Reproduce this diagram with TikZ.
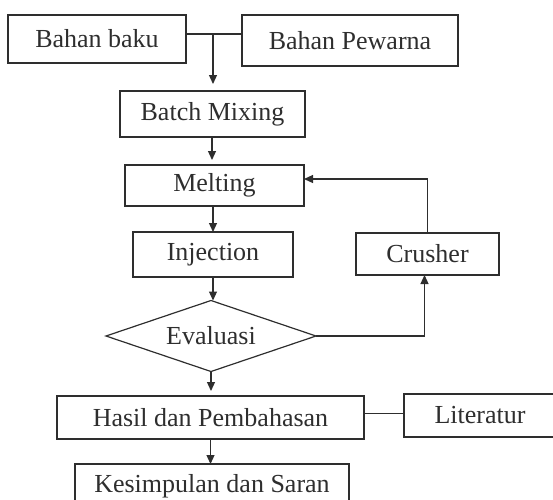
\documentclass[tikz,border=0pt]{standalone}
\usepackage{fontspec}
\setmainfont{Liberation Serif}
\usepackage{tikz}
\usetikzlibrary{arrows.meta}
\usetikzlibrary{shapes.geometric}
\definecolor{inkgray}{HTML}{2E2E2E}

\begin{document}
\begin{tikzpicture}[
  x=1pt,y=-1pt,
  >={Triangle[length=9pt,width=8pt]},line width=1.2pt,draw=inkgray,text=inkgray,
  font=\fontsize{26}{30}\selectfont,
  box/.style={draw,rectangle,inner sep=0pt,outer sep=0pt,solid},
  check/.style={draw,diamond,aspect=2.96,inner sep=0pt,outer sep=0pt,minimum width=210pt,minimum height=71pt}]

      \useasboundingbox (0,0) rectangle (553,499);

      \node [box,minimum width=178pt,minimum height=48pt] (baku) at (97,39) {Bahan baku};
      \node [box,minimum width=216pt,minimum height=51pt] (pewarna) at (350,40.5) {Bahan Pewarna};
      \node [box,minimum width=185pt,minimum height=46pt] (batch) at (212.5,114) {Batch Mixing};
      \node [box,minimum width=179pt,minimum height=41pt] (melting) at (214.5,185.5) {Melting};
      \node [box,minimum width=160pt,minimum height=45pt] (injection) at (213,254.5) {Injection};
      \node [box,minimum width=143pt,minimum height=42pt] (crusher) at (427.5,254) {Crusher};
      \node [check] (evaluasi) at (211,336) {Evaluasi};
      \node [box,minimum width=307pt,minimum height=43pt] (hasil) at (210.5,417.5) {Hasil dan Pembahasan};
      \node [box,minimum width=152pt,minimum height=43pt] (literatur) at (480,415.5) {Literatur};
      \node [box,minimum width=274pt,minimum height=44pt] (kesimpulan) at (212,486) {Kesimpulan dan Saran};

      \coordinate (join) at (213,34);

       \path[->]
	([yshift=5pt]baku.east) edge[-]				([yshift=6.5pt]pewarna.west)
	(join) edge[shorten >=7pt]				(join |- batch.north)
	([xshift=-0.5pt]batch.south) edge[shorten >=5pt]	([xshift=-0.5pt]batch.south |- melting.north)
	([xshift=-1.5pt]melting.south) edge			([xshift=-1.5pt]melting.south |- injection.north)
	(injection.south) edge					(injection.south |- evaluasi.north)
	(evaluasi.south) edge[shorten >=5pt]			(evaluasi.south |- hasil.north)
	(hasil.south) edge					(hasil.south |- kesimpulan.north)
	([yshift=4pt]hasil.east) edge[-]			([yshift=4pt]hasil.east -| literatur.west);

       \draw[->] (crusher.north) |- ([yshift=6.5pt]melting.east);
       \draw[->] (evaluasi.east) -| ([xshift=-3pt]crusher.south);

  \end{tikzpicture}
\end{document}
